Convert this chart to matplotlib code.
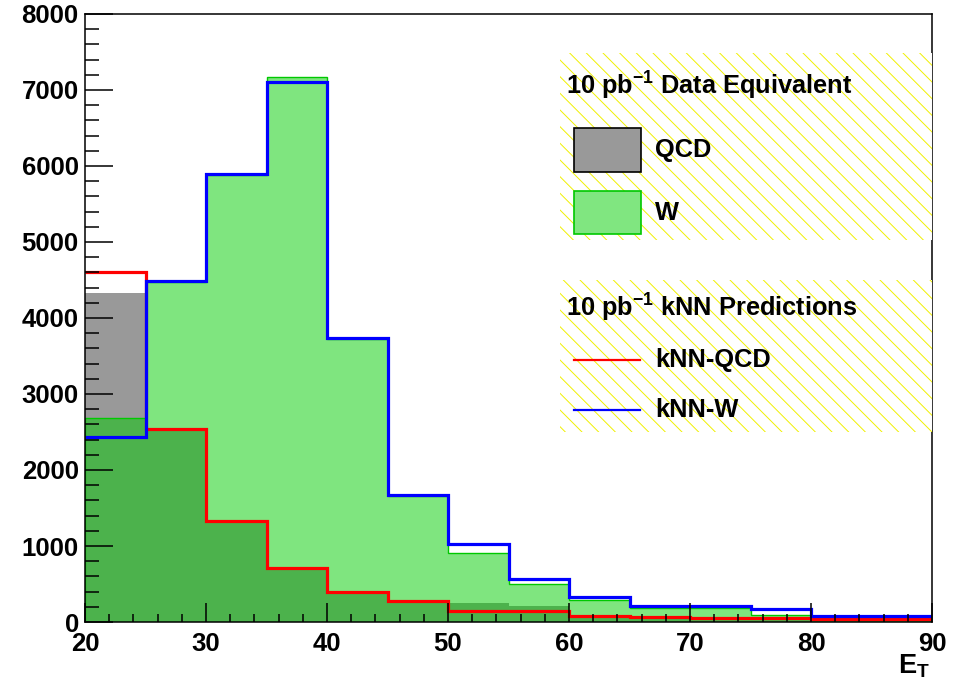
import matplotlib
matplotlib.use("Agg")
import matplotlib.pyplot as plt
import numpy as np
from matplotlib.patches import Rectangle
from matplotlib.lines import Line2D
from matplotlib.ticker import MultipleLocator

plt.rcParams['font.family'] = ['Liberation Sans', 'DejaVu Sans']
plt.rcParams['font.weight'] = 'bold'
plt.rcParams['mathtext.fontset'] = 'custom'
plt.rcParams['mathtext.rm'] = 'Liberation Sans:bold'
plt.rcParams['mathtext.bf'] = 'Liberation Sans:bold'
plt.rcParams['mathtext.it'] = 'Liberation Sans:bold'
plt.rcParams['mathtext.default'] = 'bf'
plt.rcParams['hatch.linewidth'] = 0.7

# bin edges in E_T
edges = np.arange(20, 95, 5)

# filled histograms (10 pb^-1 data equivalent)
qcd = [4330, 2520, 1320, 690, 390, 270, 250, 210, 90, 60, 50, 45, 40, 30]
wev = [2680, 4480, 5880, 7170, 3730, 1660, 910, 500, 285, 185, 180, 95, 70, 60]

# kNN predictions
knn_qcd = [4600, 2540, 1330, 710, 400, 270, 146, 146, 80, 68, 50, 50, 45, 35]
knn_w = [2430, 4490, 5900, 7110, 3735, 1673, 1020, 570, 335, 212, 212, 168, 84, 84]

fig = plt.figure(figsize=(9.59, 6.86), dpi=100)
ax = fig.add_axes([85/959, 1-622/686, 847/959, 608/686])

#filled histos
ax.stairs(qcd, edges, fill=True, facecolor='#999999', edgecolor='#999999', linewidth=0)
ax.stairs(wev, edges, fill=True, facecolor=(0, 0.8, 0, 0.5), edgecolor='none', linewidth=0)
ax.stairs(wev, edges, baseline=0, color='#00c800', linewidth=1)

#kNN lines
ax.stairs(knn_qcd, edges, baseline=None, color='#ff0000', linewidth=2.3)
ax.stairs(knn_w, edges, baseline=None, color='#0000ff', linewidth=2.3)

ax.set_xlim(20, 90)
ax.set_ylim(0, 8000)
ax.xaxis.set_major_locator(MultipleLocator(10))
ax.xaxis.set_minor_locator(MultipleLocator(2))
ax.yaxis.set_major_locator(MultipleLocator(1000))
ax.yaxis.set_minor_locator(MultipleLocator(200))
ax.tick_params(axis='y', which='major', direction='in', length=20, width=1.1, labelsize=18.5, pad=4.5)
ax.tick_params(axis='y', which='minor', direction='in', length=10, width=1.1)
ax.tick_params(axis='x', which='major', direction='in', length=14, width=1.1, labelsize=18.5, pad=7)
ax.tick_params(axis='x', which='minor', direction='in', length=6, width=1.1)
for lab in ax.get_xticklabels() + ax.get_yticklabels():
    lab.set_fontweight('bold')
for sp in ax.spines.values():
    sp.set_linewidth(1.1)

fig.text(930/959, 1-666/686, r'E$_\mathbf{T}$', ha='right', va='center', fontsize=19.5, fontweight='bold')

#legend boxes
def axfr(px, py):
    return (px-85)/847, (622-py)/608

for (y0, y1) in [(53, 240), (280, 432)]:
    x0f, y1f = axfr(560, y0)
    x1f, y0f = axfr(932, y1)
    ax.add_patch(Rectangle((x0f, y0f), x1f-x0f, y1f-y0f, transform=ax.transAxes,
                           facecolor='white', edgecolor='#f0f000', linewidth=0, hatch='\\\\', zorder=5))

fs = 18.3
tx, ty = axfr(566, 86)
ax.text(tx, ty, r'10 pb$^{-1}$ Data Equivalent', transform=ax.transAxes, fontsize=fs,
        fontweight='bold', va='center', ha='left', zorder=6)
tx, ty = axfr(566, 308)
ax.text(tx, ty, r'10 pb$^{-1}$ kNN Predictions', transform=ax.transAxes, fontsize=fs,
        fontweight='bold', va='center', ha='left', zorder=6)

bx0, by0 = axfr(574, 172)
bx1, by1 = axfr(641, 128)
ax.add_patch(Rectangle((bx0, by0), bx1-bx0, by1-by0, transform=ax.transAxes,
                       facecolor='#999999', edgecolor='black', linewidth=1.2, zorder=6))
bx0, by0 = axfr(574, 234)
bx1, by1 = axfr(641, 191)
ax.add_patch(Rectangle((bx0, by0), bx1-bx0, by1-by0, transform=ax.transAxes,
                       facecolor=(0.5, 0.9, 0.5), edgecolor='#00c800', linewidth=1.2, zorder=6))
tx, ty = axfr(655, 150)
ax.text(tx, ty, 'QCD', transform=ax.transAxes, fontsize=fs, fontweight='bold', va='center', zorder=6)
tx, ty = axfr(655, 213)
ax.text(tx, ty, 'W', transform=ax.transAxes, fontsize=fs, fontweight='bold', va='center', zorder=6)

lx0, ly = axfr(574, 360)
lx1, _ = axfr(640, 360)
ax.add_line(Line2D([lx0, lx1], [ly, ly], transform=ax.transAxes, color='#ff0000', linewidth=1.6, zorder=6))
tx, ty = axfr(655, 360)
ax.text(tx, ty, 'kNN-QCD', transform=ax.transAxes, fontsize=fs, fontweight='bold', va='center', zorder=6)
lx0, ly = axfr(574, 410)
ax.add_line(Line2D([lx0, lx1], [ly, ly], transform=ax.transAxes, color='#0000ff', linewidth=1.6, zorder=6))
tx, ty = axfr(655, 410)
ax.text(tx, ty, 'kNN-W', transform=ax.transAxes, fontsize=fs, fontweight='bold', va='center', zorder=6)

fig.savefig('out.png', dpi=100)
